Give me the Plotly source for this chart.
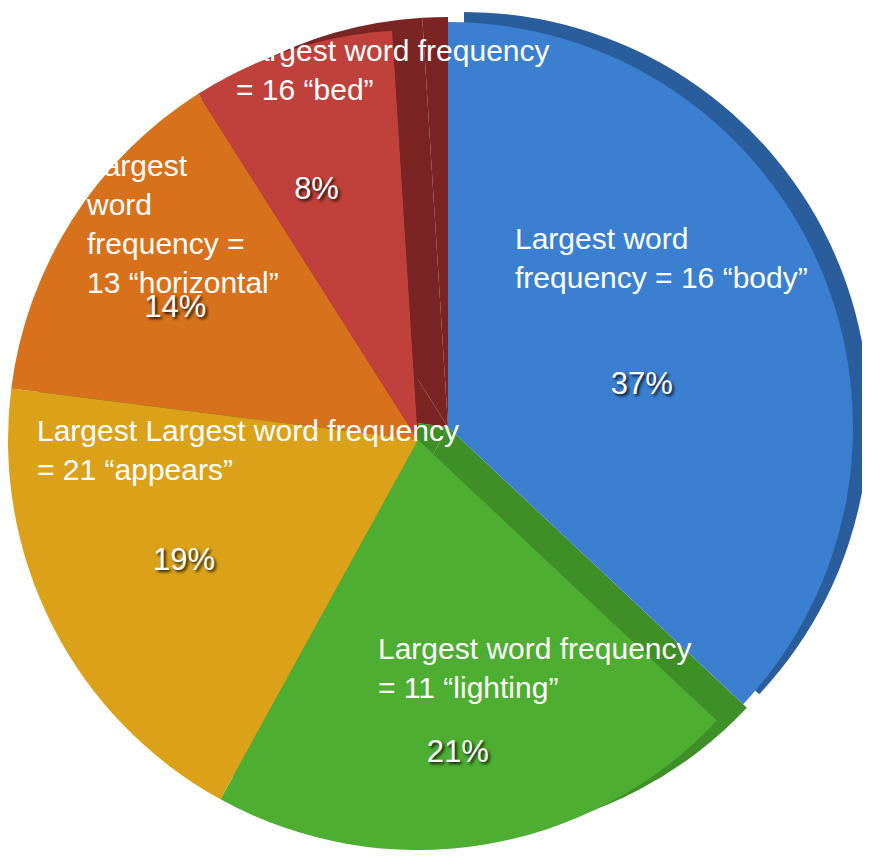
import plotly.graph_objects as go

# ---- Data ----
slices = ["body", "lighting", "appears", "horizontal", "bed", "edge"]
shares = [37, 21, 19, 14, 8, 1]
pct_labels = ["37%", "21%", "19%", "14%", "8%", ""]
face_colors = ["#3b7fd0", "#4dae31", "#dba219", "#d8711b", "#c0403b", "#7a2524"]
wall_colors = ["#2a5d9c", "#3f8f27", "#3f8f27", "#7a2524", "#7a2524", "#7a2524"]

notes = [
    "Largest word frequency<br>= 16 “bed”",
    "Largest<br>word<br>frequency =<br>13 “horizontal”",
    "Largest word<br>frequency = 16 “body”",
    "Largest Largest word frequency<br>= 21 “appears”",
    "Largest word frequency<br>= 11 “lighting”",
]
note_pos = [(226, 24), (76, 139), (505, 212), (27, 404), (368, 622)]

W, H = 870, 863
FONT = "Liberation Sans, Arial, Helvetica, sans-serif"
CLEAR = "rgba(0,0,0,0)"
NB = "\u00a0"


def dom(cx, cy, r):
    return dict(x=[(cx - r) / W, (cx + r) / W], y=[1 - (cy + r) / H, 1 - (cy - r) / H])


def pie(colors, text, domain, hover=False):
    return go.Pie(
        labels=slices, values=shares, text=text,
        textinfo="text" if text else "none",
        sort=False, direction="clockwise", rotation=0,
        marker=dict(colors=colors, line=dict(width=0)),
        textposition="inside", insidetextorientation="horizontal",
        textfont=dict(family=FONT, size=31, color="white",
                      shadow="2px 2px 3px rgba(0,0,0,0.85)"),
        hoverinfo="label+percent" if hover else "skip",
        showlegend=False, domain=domain,
    )


def lift(t, n):
    # push a label lower inside its slice with blank lead lines
    return (NB + "<br>") * n + t if t else t


lead = {"lighting": 3, "bed": 3, "horizontal": 1}

# main pie (all slices except the pulled-out one)
main_colors = [CLEAR] + face_colors[1:]
main_text = [""] + [lift(t, lead.get(s, 0))
                    for s, t in zip(slices[1:], pct_labels[1:])]
# side walls seen through the gap
wall_main = [CLEAR] + wall_colors[1:]
# pulled-out slice
blue_wall = [wall_colors[0]] + [CLEAR] * (len(slices) - 1)
blue_face = [face_colors[0]] + [CLEAR] * (len(slices) - 1)
blue_text = [lift(pct_labels[0], 2)] + [""] * (len(slices) - 1)

fig = go.Figure()
fig.add_trace(pie(wall_main, None, dom(440, 419, 410)))
fig.add_trace(pie(main_colors, main_text, dom(410, 432, 410), hover=True))
fig.add_trace(pie(blue_wall, None, dom(456, 409, 405)))
fig.add_trace(pie(blue_face, blue_text, dom(440, 419, 405), hover=True))

for txt, (px, py) in zip(notes, note_pos):
    fig.add_annotation(
        text=txt, xref="paper", yref="paper",
        x=px / W, y=1 - py / H, xanchor="left", yanchor="top",
        align="left", showarrow=False,
        font=dict(family=FONT, size=30, color="white"),
    )

fig.update_layout(
    width=W, height=H,
    margin=dict(l=0, r=0, t=0, b=0),
    paper_bgcolor="white", plot_bgcolor="white",
)

fig.write_html("out.html")
